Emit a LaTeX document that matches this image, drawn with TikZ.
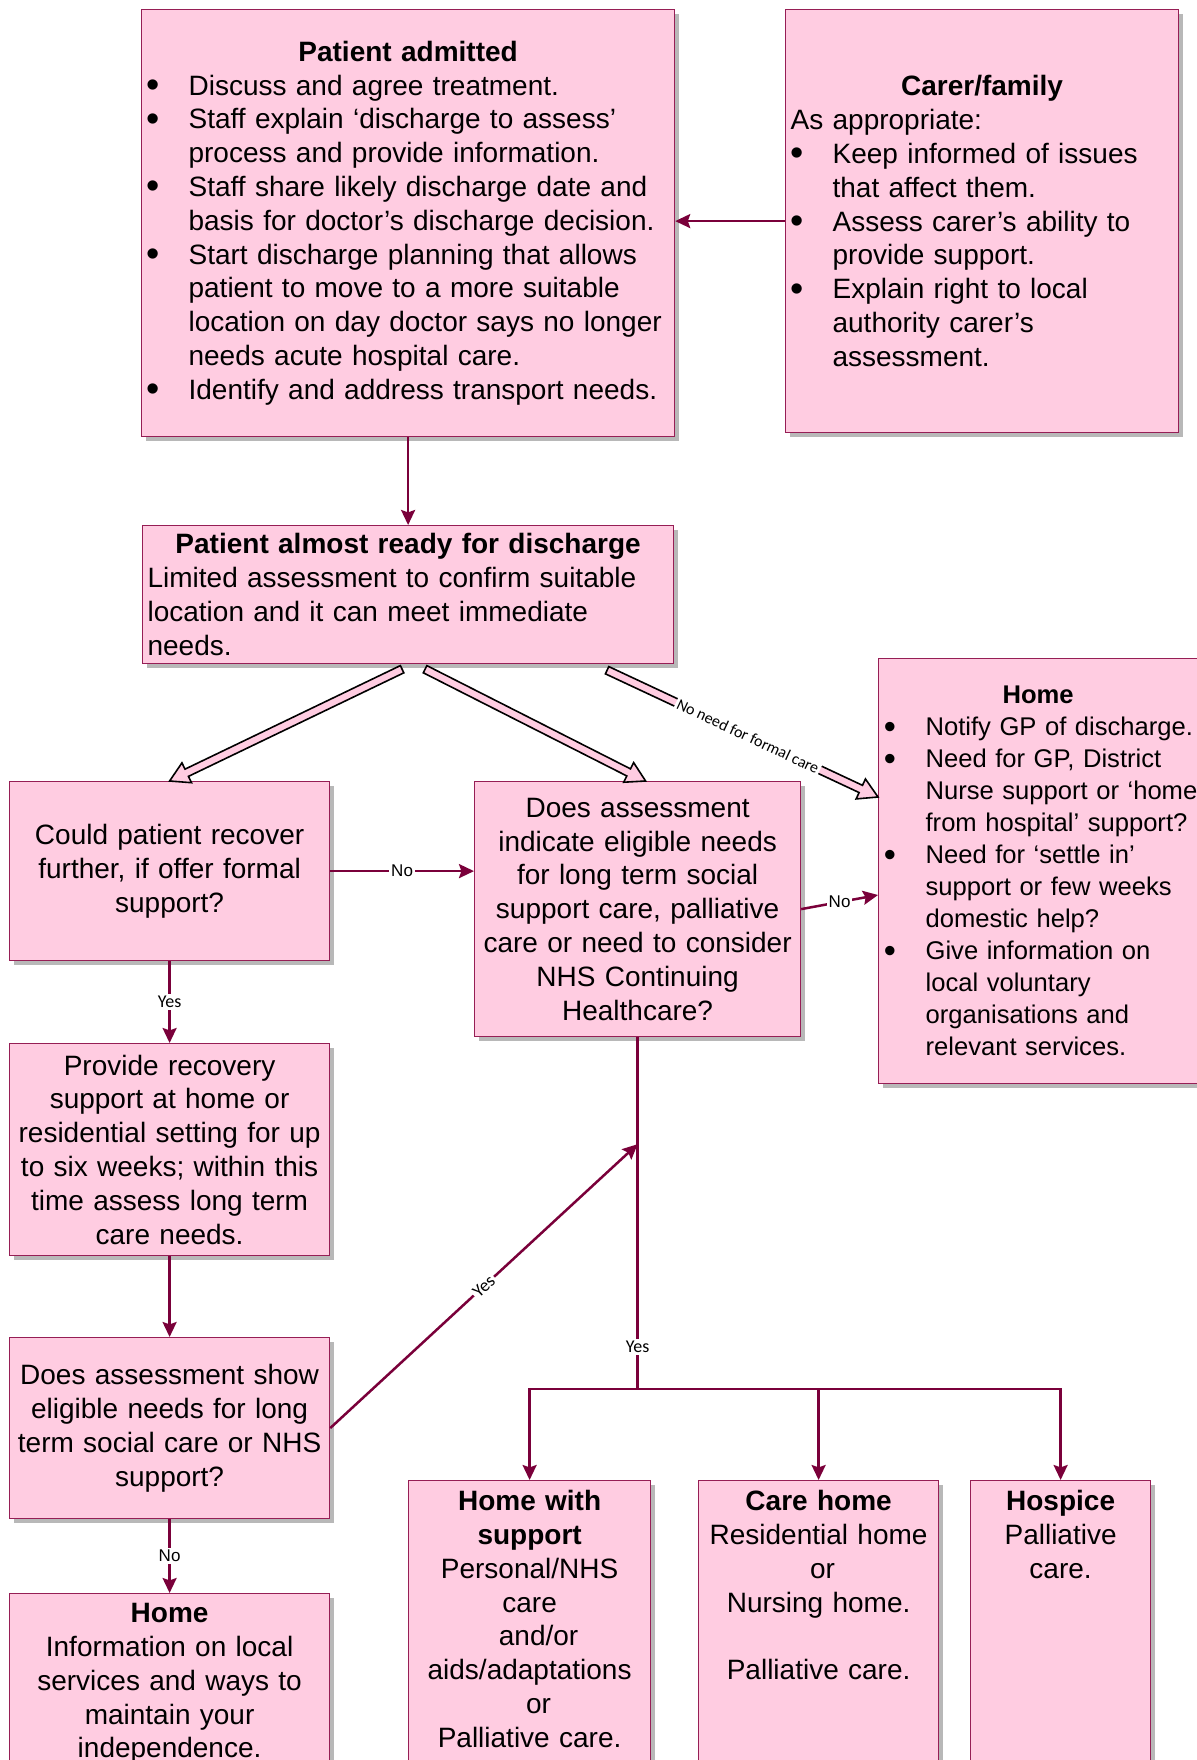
\documentclass[tikz,border=0pt]{standalone}
\usepackage{fontspec}
\setmainfont{Liberation Sans}
\newfontfamily\calibri{Carlito}
\usetikzlibrary{arrows.meta,calc,shadows,positioning}
\definecolor{boxpink}{RGB}{255,204,225}
\definecolor{boxline}{RGB}{150,30,85}
\definecolor{wine}{RGB}{122,0,58}
\newcommand{\bul}{\par\hangindent=23.5pt\hangafter=1\noindent\makebox[23.5pt][l]{\hspace{2.6pt}\raisebox{-1.2pt}{\scalebox{1.35}{\textbullet}}}}

\begin{document}
\begin{tikzpicture}
        [x=0.5pt,y=-0.5pt,
         box/.style={draw=boxline,fill=boxpink,line width=0.6pt,anchor=north west,
           inner xsep=0pt,inner ysep=0pt,font=\fontsize{14pt}{16.9pt}\selectfont,
           drop shadow={shadow xshift=2pt,shadow yshift=-2pt,fill=black!28,opacity=1}},
         txt/.style={inner sep=0pt,font=\fontsize{14pt}{16.9pt}\selectfont,align=center},
         link/.style={draw=wine,line width=1.25pt,-{Stealth[length=7.5pt,width=7pt,inset=1.2pt]}},
         wire/.style={draw=wine,line width=1.25pt},
         tag/.style={fill=white,inner sep=1pt,font=\fontsize{8.5pt}{10pt}\selectfont},
         ytag/.style={tag,font=\calibri\fontsize{9pt}{10pt}\selectfont},
         blockarrow/.style={draw=black,line width=0.8pt,fill=boxpink,line join=miter}]
        \useasboundingbox (0,0) rectangle (1197,1760);
        \fill[white] (0,0) rectangle (1197,1760);
        \clip (0,0) rectangle (1197,1760);

        \node[box,minimum width=266.5pt,minimum height=213.5pt,text width=266.5pt,align=left] (pa) at (141,9)
          {{\centering\bfseries Patient admitted\par}\bul Discuss and agree treatment.\bul Staff explain ‘discharge to assess’\newline process and provide information.\bul Staff share likely discharge date and\newline basis for doctor’s discharge decision.\bul Start discharge planning that allows\newline patient to move to a more suitable\newline location on day doctor says no longer\newline needs acute hospital care.\bul Identify and address transport needs.\par};
        \node[box,minimum width=196.5pt,minimum height=211.5pt,text width=196.5pt,align=left] (cf) at (785,9)
          {{\centering\bfseries Carer/family\par}\noindent\hspace*{2.5pt}As appropriate:\bul Keep informed of issues\newline that affect them.\bul Assess carer’s ability to\newline provide support.\bul Explain right to local\newline authority carer’s\newline assessment.\par};
        \node[box,minimum width=265.5pt,minimum height=69pt,text width=265.5pt,align=left] (par) at (142,525)
          {{\centering\bfseries Patient almost ready for discharge\par}\leftskip=2.5pt\noindent Limited assessment to confirm suitable\newline location and it can meet immediate\newline needs.\par};
        \node[box,minimum width=160pt,minimum height=89.5pt,text width=160pt,align=center] (cpr) at (9,781)
          {Could patient recover\\further, if offer formal\\support?};
        \node[box,minimum width=163pt,minimum height=127.5pt,text width=163pt,align=center] (dai) at (474,781)
          {Does assessment\\indicate eligible needs\\for long term social\\support care, palliative\\care or need to consider\\NHS Continuing\\Healthcare?};
        \node[box,minimum width=159.5pt,minimum height=212.5pt,text width=159.5pt,align=left,font=\fontsize{12.8pt}{16pt}\selectfont] (hr) at (878,658)
          {{\centering\bfseries Home\par}\bul Notify GP of discharge.\bul Need for GP, District\newline Nurse support or ‘home\newline from hospital’ support?\bul Need for ‘settle in’\newline support or few weeks\newline domestic help?\bul Give information on\newline local voluntary\newline organisations and\newline relevant services.\par};
        \node[box,minimum width=160pt,minimum height=106pt,text width=160pt,align=center] (prs) at (9,1043)
          {Provide recovery\\support at home or\\residential setting for up\\to six weeks; within this\\time assess long term\\care needs.};
        \node[box,minimum width=160pt,minimum height=90.5pt,text width=160pt,align=center] (das) at (9,1337)
          {Does assessment show\\eligible needs for long\\term social care or NHS\\support?};

        \node[box,minimum width=160pt,minimum height=100pt] (hb) at (9,1593) {};
        \node[box,minimum width=121pt,minimum height=150pt] (hws) at (408,1480) {};
        \node[box,minimum width=120pt,minimum height=150pt] (ch) at (698,1480) {};
        \node[box,minimum width=90pt,minimum height=150pt] (hos) at (970,1480) {};
        \node[txt,anchor=north,text width=160pt] (hbt) at ([yshift=-5pt]hb.north)
          {\textbf{Home}\\Information on local\\services and ways to\\maintain your\\independence.};
        \node[txt,anchor=north,text width=121pt] (hwst) at ([yshift=-5pt]hws.north)
          {\textbf{Home with}\\\textbf{support}\\Personal/NHS\\care\\\hspace*{9pt}and/or\\aids/adaptations\\\hspace*{9pt}or\\Palliative care.};
        \node[txt,anchor=north,text width=120pt] (cht) at ([yshift=-5pt]ch.north)
          {\textbf{Care home}\\Residential home\\\hspace*{4pt}or\\Nursing home.\\[16.9pt]Palliative care.};
        \node[txt,anchor=north,text width=90pt] (host) at ([yshift=-5pt]hos.north)
          {\textbf{Hospice}\\Palliative\\care.};

        \draw[link] (cf.west) -- (cf.west -| pa.east);
        \draw[link] (pa.south) -- (par.north);

        \coordinate (lt) at ($(par.south)+(-6,5)$);
        \coordinate (mt) at ($(par.south)+(17,5)$);
        \coordinate (rt) at ($(par.south)+(199,6)$);
        \coordinate (lh) at (cpr.north);
        \coordinate (mh) at ($(dai.north)+(8,0)$);
        \coordinate (rh) at ($(hr.north west)+(0,139)$);
        \foreach \ta/\hd in {lt/lh,mt/mh,rt/rh}
        {\coordinate (b) at ($(\hd)!9.5pt!(\ta)$);
         \filldraw[blockarrow] ($(\ta)!2pt!90:(\hd)$) -- ($(b)!2pt!90:(\hd)$) -- ($(b)!5.5pt!90:(\hd)$) -- (\hd)
           -- ($(b)!5.5pt!-90:(\hd)$) -- ($(b)!2pt!-90:(\hd)$) -- ($(\ta)!2pt!-90:(\hd)$) -- cycle;}
        \path (rt) -- (rh) node[pos=0.52,sloped,ytag,font=\calibri\fontsize{8pt}{9pt}\selectfont] (nocare) {No need for formal care};

        \draw[link] (cpr.east) -- node[tag] (no1) {No} (cpr.east -| dai.west);
        \draw[link] (dai.east) -- node[tag] (no2) {No} ($(hr.north west)+(0,237)$);
        \draw[link] (cpr.south) -- node[ytag] (yes1) {Yes} (prs.north);
        \draw[link] (prs.south) -- (das.north);
        \draw[link] (das.south) -- node[tag] (no3) {No} (hb.north);

        \coordinate (merge) at ($(dai.south)+(0,107)$);
        \coordinate (split) at ($(dai.south)+(0,352)$);
        \draw[wire] (dai.south) -- node[pos=0.88,ytag] (yes2) {Yes} (split);
        \draw[link] (das.east) -- node[ytag,sloped] (yes3) {Yes} (merge);
        \foreach \dest in {hws,ch,hos}
        {\draw[link] (split) -| (\dest.north);}
      \end{tikzpicture}
\end{document}
